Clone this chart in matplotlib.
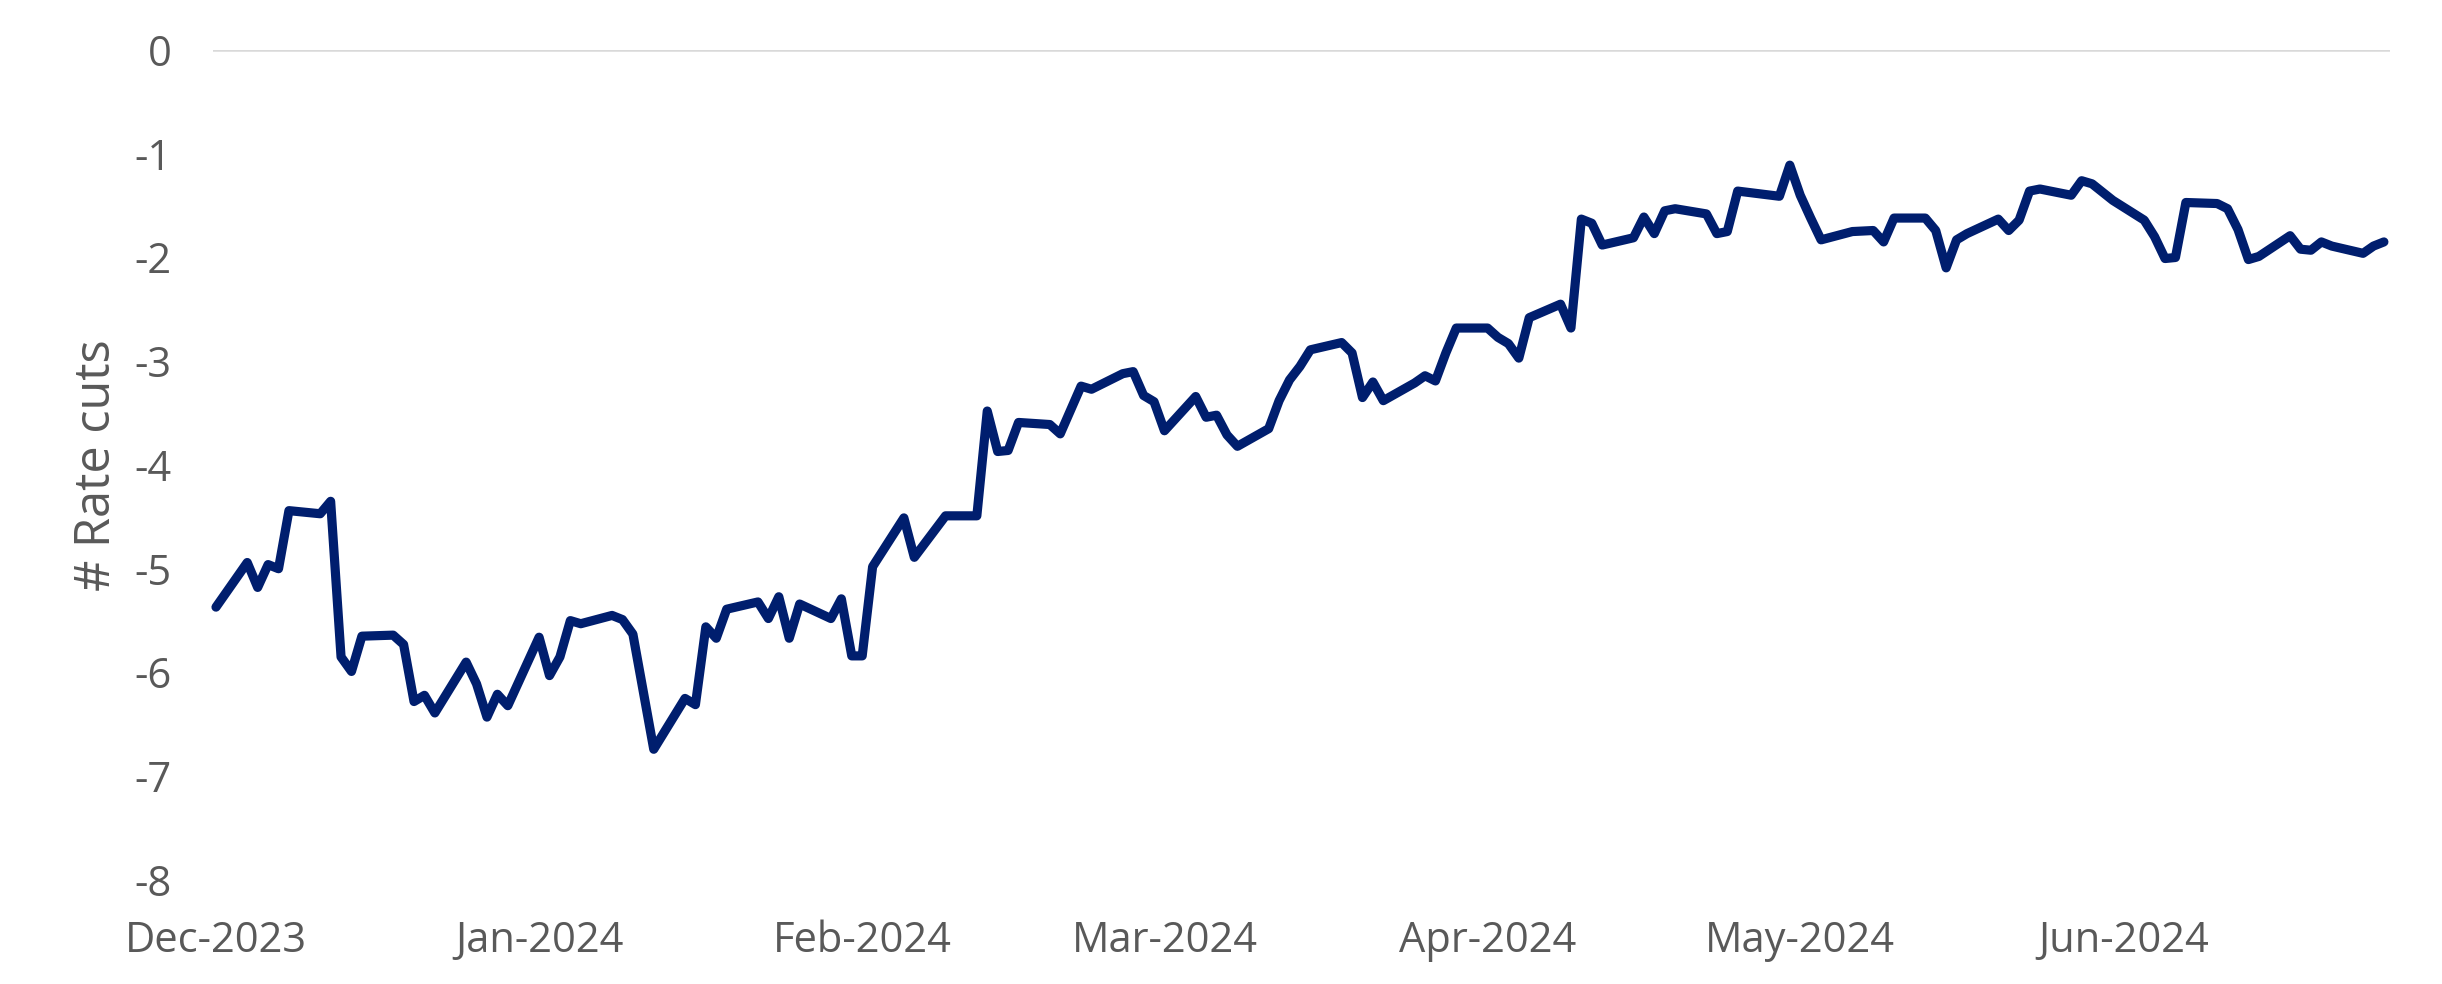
import pandas as pd
import matplotlib.pyplot as plt
import matplotlib.dates as mdates

plt.rcParams['font.family'] = ['Open Sans', 'DejaVu Sans']

# Market-implied number of rate cuts
dates = [
    "2023-12-01", "2023-12-04", "2023-12-05", "2023-12-06", "2023-12-07", "2023-12-08",
    "2023-12-11", "2023-12-12", "2023-12-13", "2023-12-14", "2023-12-15",
    "2023-12-18", "2023-12-19", "2023-12-20", "2023-12-21", "2023-12-22",
    "2023-12-25", "2023-12-26", "2023-12-27", "2023-12-28", "2023-12-29",
    "2024-01-01", "2024-01-02", "2024-01-03", "2024-01-04", "2024-01-05",
    "2024-01-08", "2024-01-09", "2024-01-10", "2024-01-12",
    "2024-01-15", "2024-01-16", "2024-01-17", "2024-01-18", "2024-01-19",
    "2024-01-22", "2024-01-23", "2024-01-24", "2024-01-25", "2024-01-26",
    "2024-01-29", "2024-01-30", "2024-01-31", "2024-02-01", "2024-02-02",
    "2024-02-05", "2024-02-06", "2024-02-09",
    "2024-02-12", "2024-02-13", "2024-02-14", "2024-02-15", "2024-02-16",
    "2024-02-19", "2024-02-20", "2024-02-22", "2024-02-23",
    "2024-02-26", "2024-02-27", "2024-02-28", "2024-02-29", "2024-03-01",
    "2024-03-04", "2024-03-05", "2024-03-06", "2024-03-07", "2024-03-08",
    "2024-03-11", "2024-03-12", "2024-03-13", "2024-03-14", "2024-03-15",
    "2024-03-18", "2024-03-19", "2024-03-20", "2024-03-21", "2024-03-22",
    "2024-03-25", "2024-03-26", "2024-03-27", "2024-03-28", "2024-03-29",
    "2024-04-01", "2024-04-02", "2024-04-03", "2024-04-04", "2024-04-05",
    "2024-04-08", "2024-04-09", "2024-04-10", "2024-04-11", "2024-04-12",
    "2024-04-15", "2024-04-16", "2024-04-17", "2024-04-18", "2024-04-19",
    "2024-04-22", "2024-04-23", "2024-04-24", "2024-04-25",
    "2024-04-29", "2024-04-30", "2024-05-01", "2024-05-02", "2024-05-03",
    "2024-05-06", "2024-05-08", "2024-05-09", "2024-05-10",
    "2024-05-13", "2024-05-14", "2024-05-15", "2024-05-16", "2024-05-17",
    "2024-05-20", "2024-05-21", "2024-05-22", "2024-05-23", "2024-05-24",
    "2024-05-27", "2024-05-28", "2024-05-29", "2024-05-30", "2024-05-31",
    "2024-06-03", "2024-06-04", "2024-06-05", "2024-06-06", "2024-06-07",
    "2024-06-10", "2024-06-11", "2024-06-12", "2024-06-13", "2024-06-14",
    "2024-06-17", "2024-06-18", "2024-06-19", "2024-06-20", "2024-06-21",
    "2024-06-24", "2024-06-25", "2024-06-26",
]
rate_cuts = [
    -5.37, -4.94, -5.18, -4.96, -5.00, -4.44,
    -4.47, -4.35, -5.85, -5.99, -5.65,
    -5.64, -5.73, -6.28, -6.22, -6.39,
    -5.90, -6.11, -6.43, -6.21, -6.32,
    -5.66, -6.03, -5.85, -5.50, -5.53,
    -5.45, -5.49, -5.63, -6.74,
    -6.25, -6.31, -5.56, -5.67, -5.39,
    -5.32, -5.48, -5.27, -5.67, -5.34,
    -5.48, -5.29, -5.84, -5.84, -4.98,
    -4.51, -4.89, -4.49,
    -4.49, -3.48, -3.87, -3.86, -3.59,
    -3.61, -3.70, -3.24, -3.27,
    -3.12, -3.10, -3.33, -3.39, -3.67,
    -3.34, -3.54, -3.52, -3.71, -3.82,
    -3.65, -3.38, -3.18, -3.05, -2.89,
    -2.82, -2.92, -3.35, -3.20, -3.38,
    -3.21, -3.14, -3.19, -2.92, -2.68,
    -2.68, -2.77, -2.83, -2.97, -2.58,
    -2.45, -2.68, -1.63, -1.67, -1.88,
    -1.81, -1.61, -1.77, -1.55, -1.53,
    -1.58, -1.77, -1.75, -1.36,
    -1.41, -1.11, -1.40, -1.62, -1.83,
    -1.75, -1.74, -1.85, -1.62,
    -1.62, -1.74, -2.10, -1.83, -1.77,
    -1.63, -1.74, -1.64, -1.36, -1.34,
    -1.40, -1.26, -1.29, -1.37, -1.45,
    -1.64, -1.80, -2.01, -2.00, -1.47,
    -1.48, -1.53, -1.73, -2.02, -1.99,
    -1.79, -1.92, -1.93, -1.85, -1.89,
    -1.96, -1.89, -1.85,
]
y_ticks = [0, -1, -2, -3, -4, -5, -6, -7, -8]

df = pd.DataFrame({"date": pd.to_datetime(dates), "cuts": rate_cuts})

grey = "#595959"
fig = plt.figure(figsize=(24.42, 9.84), dpi=100)
ax = fig.add_axes([0.0872, 0.1057, 0.8915, 0.8435])

ax.axhline(0, color="#d9d9d9", linewidth=1.8, zorder=1)
ax.plot(df["date"], df["cuts"], color="#001e6e", linewidth=6.6,
        solid_joinstyle="round", solid_capstyle="round", zorder=3, clip_on=False)

ax.set_ylim(-8, 0)
ax.set_yticks(y_ticks)
ax.set_yticklabels([str(t) for t in y_ticks])
ax.set_xlim(df["date"].iloc[0] - pd.Timedelta(hours=7),
            df["date"].iloc[-1] + pd.Timedelta(hours=14))
ax.xaxis.set_major_locator(mdates.MonthLocator())
ax.xaxis.set_major_formatter(mdates.DateFormatter("%b-%Y"))

for side in ax.spines.values():
    side.set_visible(False)
ax.tick_params(axis="both", length=0, labelsize=30, labelcolor=grey)
ax.tick_params(axis="y", pad=30)
ax.tick_params(axis="x", pad=29)
ax.set_ylabel("# Rate cuts", fontsize=35, color=grey, labelpad=9)

fig.savefig("out.png", dpi=100, facecolor="white")
